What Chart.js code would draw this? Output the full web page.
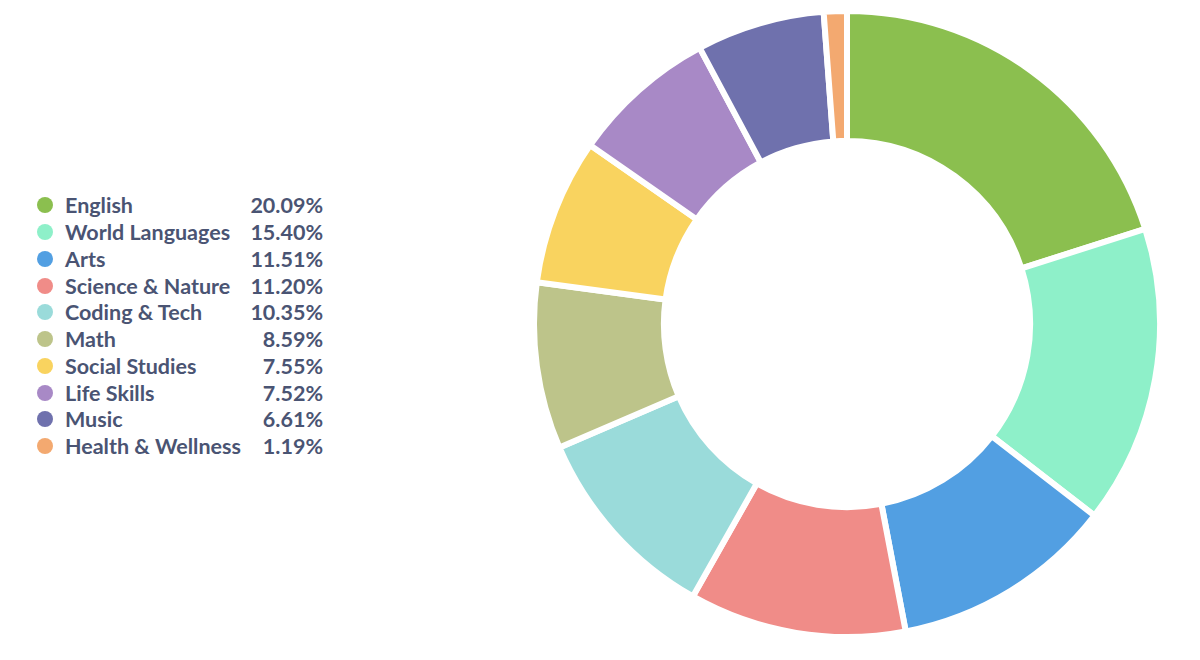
<!DOCTYPE html>
<html lang="en">
<head>
    <meta charset="UTF-8">
    <title>Subjects share</title>
    <script src="https://cdn.jsdelivr.net/npm/chart.js"></script>
    <style>
        * { margin: 0; padding: 0; box-sizing: border-box; }
        body {
            width: 1200px;
            height: 660px;
            background: #fff;
            font-family: 'Lato', sans-serif;
            position: relative;
            overflow: hidden;
        }
        .legend {
            position: absolute;
            left: 37px;
            top: 192px;
            width: 286px;
        }
        .legend .row {
            display: flex;
            align-items: center;
            height: 26.75px;
            font-size: 21.5px;
            font-weight: 700;
            color: #4a5473;
        }
        .legend .dot {
            width: 16px;
            height: 16px;
            border-radius: 50%;
            margin-right: 12px;
            flex: none;
        }
        .legend .name { flex: 1; white-space: nowrap; }
        .legend .pct { text-align: right; }
        .chart-box {
            position: absolute;
            left: 531px;
            top: 8px;
            width: 632px;
            height: 632px;
        }
    </style>
</head>
<body>
    <div class="legend" id="legend"></div>
    <div class="chart-box">
        <canvas id="donut"></canvas>
    </div>

    <script>
        const subjects = ['English', 'World Languages', 'Arts', 'Science & Nature', 'Coding & Tech',
                          'Math', 'Social Studies', 'Life Skills', 'Music', 'Health & Wellness'];
        const shares = [20.09, 15.40, 11.51, 11.20, 10.35, 8.59, 7.55, 7.52, 6.61, 1.19];
        const colors = ['#8bbf4f', '#8ef0c9', '#529fe2', '#f08c88', '#9adbda',
                        '#bdc48a', '#f9d35f', '#a889c6', '#6f71ad', '#f3a970'];

        // legend built from the same arrays
        const legend = document.getElementById('legend');
        subjects.forEach((name, i) => {
            const row = document.createElement('div');
            row.className = 'row';
            row.innerHTML = '<span class="dot" style="background:' + colors[i] + '"></span>' +
                '<span class="name">' + name.replace('&', '&amp;') + '</span>' +
                '<span class="pct">' + shares[i].toFixed(2) + '%</span>';
            legend.appendChild(row);
        });

        // white borders give the even gaps between slices
        new Chart(document.getElementById('donut'), {
            type: 'doughnut',
            data: {
                labels: subjects,
                datasets: [{
                    data: shares,
                    backgroundColor: colors,
                    borderColor: '#ffffff',
                    borderWidth: 6,
                    hoverBorderWidth: 6,
                    borderJoinStyle: 'miter'
                }]
            },
            options: {
                responsive: true,
                maintainAspectRatio: false,
                animation: false,
                cutout: '58.5%',
                plugins: {
                    legend: { display: false },
                    tooltip: { enabled: false }
                }
            }
        });
    </script>
</body>
</html>
